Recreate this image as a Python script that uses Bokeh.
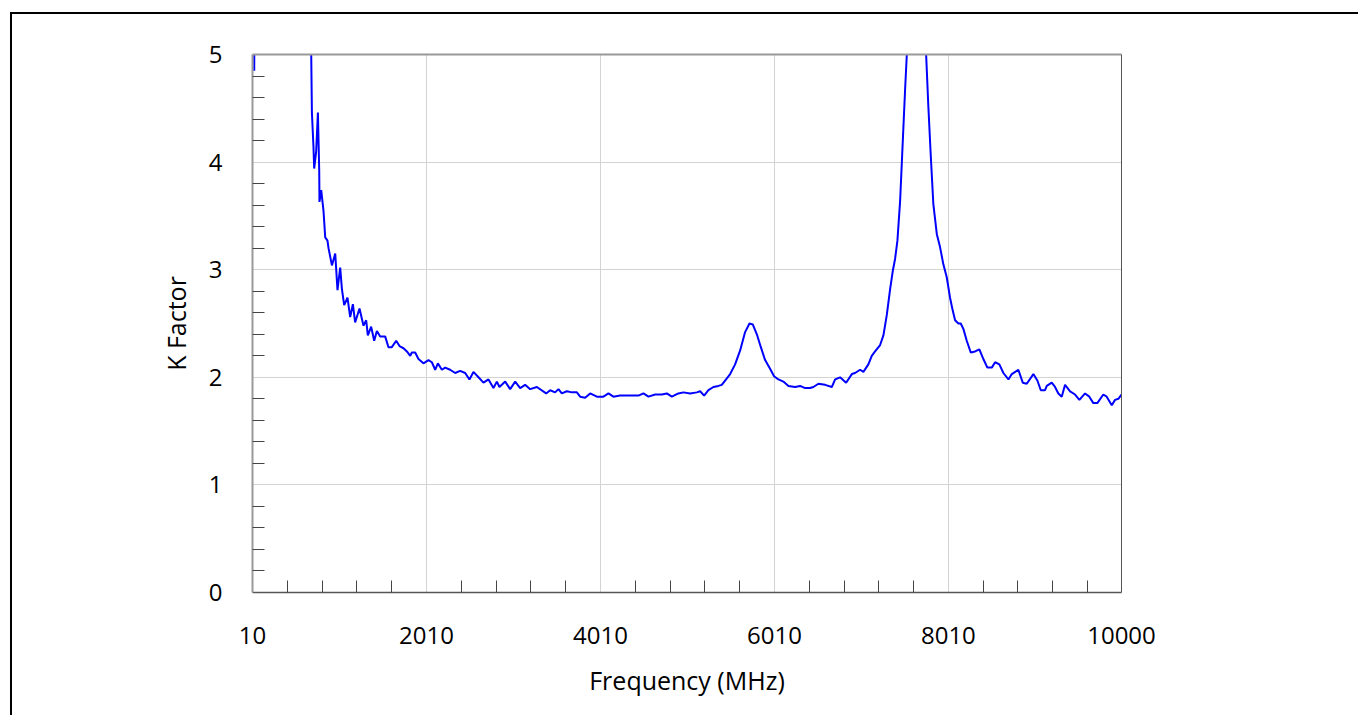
from bokeh.plotting import figure
from bokeh.models import FixedTicker, LinearAxis, Range1d
from bokeh.embed import file_html
from bokeh.resources import INLINE

# Measured K factor versus frequency
freq_mhz = [
    30, 40, 100, 300, 500, 650, 685, 693, 711, 719, 742, 762, 777, 780, 800,
    826, 846, 872, 884, 923, 961, 987, 1018, 1038, 1064, 1102, 1133, 1164,
    1190, 1240, 1286, 1317, 1336, 1374, 1409, 1440, 1478, 1535, 1573, 1612,
    1662, 1700, 1746, 1785, 1823, 1842, 1880, 1918, 1975, 2033, 2072, 2110,
    2141, 2187, 2225, 2282, 2340, 2397, 2455, 2504, 2550, 2608, 2665, 2723,
    2780, 2819, 2849, 2915, 2972, 3030, 3087, 3144, 3202, 3279, 3386, 3432,
    3489, 3527, 3566, 3624, 3681, 3739, 3777, 3834, 3892, 3969, 4044, 4102,
    4159, 4236, 4294, 4371, 4447, 4504, 4562, 4639, 4716, 4773, 4831, 4906,
    4964, 5041, 5118, 5156, 5202, 5251, 5309, 5366, 5405, 5443, 5501, 5558,
    5616, 5673, 5723, 5762, 5808, 5854, 5903, 5960, 6006, 6056, 6113, 6171,
    6248, 6305, 6363, 6420, 6458, 6516, 6593, 6670, 6708, 6765, 6834, 6900,
    6937, 6995, 7033, 7090, 7129, 7167, 7225, 7263, 7302, 7340, 7371, 7397,
    7424, 7455, 7486, 7512, 7532, 7580, 7639, 7700, 7754, 7780, 7808, 7837,
    7877, 7914, 7952, 7991, 8029, 8060, 8087, 8125, 8152, 8182, 8221, 8267,
    8317, 8366, 8412, 8458, 8509, 8547, 8596, 8642, 8700, 8739, 8814, 8865,
    8911, 8987, 9033, 9072, 9121, 9141, 9198, 9236, 9274, 9313, 9351, 9409,
    9466, 9516, 9581, 9630, 9676, 9722, 9791, 9830, 9888, 9926, 9964, 10000,
]
k_factor = [
    4.85, 8.5, 14.0, 12.0, 8.0, 5.6, 5.0, 4.46, 4.14, 3.94, 4.10, 4.46, 3.92, 3.63, 3.74,
    3.55, 3.30, 3.27, 3.20, 3.04, 3.15, 2.81, 3.02, 2.82, 2.67, 2.74, 2.56, 2.68,
    2.51, 2.64, 2.48, 2.53, 2.39, 2.47, 2.34, 2.43, 2.38, 2.38, 2.28, 2.28,
    2.34, 2.29, 2.27, 2.24, 2.20, 2.23, 2.23, 2.17, 2.13, 2.16, 2.14, 2.07,
    2.13, 2.07, 2.09, 2.07, 2.04, 2.06, 2.04, 1.98, 2.05, 2.00, 1.95, 1.98,
    1.90, 1.96, 1.91, 1.96, 1.89, 1.96, 1.90, 1.93, 1.89, 1.91, 1.85, 1.88,
    1.86, 1.89, 1.85, 1.87, 1.86, 1.86, 1.82, 1.81, 1.85, 1.82, 1.82, 1.85,
    1.82, 1.83, 1.83, 1.83, 1.83, 1.85, 1.82, 1.84, 1.84, 1.85, 1.82, 1.85,
    1.86, 1.85, 1.86, 1.87, 1.83, 1.88, 1.91, 1.92, 1.93, 1.97, 2.03, 2.12,
    2.25, 2.42, 2.50, 2.49, 2.40, 2.28, 2.16, 2.08, 2.01, 1.98, 1.96, 1.92,
    1.91, 1.92, 1.90, 1.90, 1.91, 1.94, 1.93, 1.91, 1.98, 2.00, 1.95, 2.03,
    2.04, 2.07, 2.05, 2.12, 2.20, 2.24, 2.30, 2.39, 2.58, 2.82, 2.99, 3.10,
    3.27, 3.64, 4.20, 4.67, 5.0, 6.5, 7.6, 6.5, 5.0, 4.51, 4.05, 3.61,
    3.33, 3.21, 3.05, 2.93, 2.74, 2.62, 2.53, 2.50, 2.50, 2.45, 2.34, 2.23,
    2.24, 2.26, 2.17, 2.09, 2.09, 2.14, 2.12, 2.04, 1.98, 2.03, 2.07, 1.95,
    1.94, 2.03, 1.97, 1.88, 1.88, 1.92, 1.95, 1.91, 1.85, 1.82, 1.93, 1.87,
    1.84, 1.79, 1.85, 1.82, 1.76, 1.76, 1.84, 1.82, 1.74, 1.79, 1.80, 1.84,
]

x_major = [10, 2010, 4010, 6010, 8010, 10000]
x_minor = [410, 810, 1210, 1610, 2410, 2810, 3210, 3610, 4410, 4810, 5210, 5610,
           6410, 6810, 7210, 7610, 8410, 8810, 9210, 9610]
y_major = [0, 1, 2, 3, 4, 5]
y_minor = [v / 5 for v in range(26) if v % 5]

FONT = "Open Sans"

p = figure(
    width=1330, height=700,
    x_range=Range1d(10, 10000), y_range=Range1d(0, 5),
    output_backend="svg", toolbar_location=None,
    min_border_left=240, min_border_right=221,
    min_border_top=40, min_border_bottom=122,
    x_axis_label="Frequency (MHz)", y_axis_label="K Factor",
)
p.styles = {"margin-left": "12px", "margin-top": "14px"}
p.outline_line_color = None
p.background_fill_color = "white"
p.border_fill_color = "white"

p.line(freq_mhz, k_factor, line_color="#0000ff", line_width=2)

for ax, major, minor in ((p.xaxis[0], x_major, x_minor), (p.yaxis[0], y_major, y_minor)):
    ax.ticker = FixedTicker(ticks=major, minor_ticks=minor)
    ax.major_tick_line_color = None
    ax.major_tick_in = 0
    ax.major_tick_out = 0
    ax.minor_tick_in = 12
    ax.minor_tick_out = 0
    ax.minor_tick_line_color = "#444444"
    ax.minor_tick_line_width = 1
    ax.major_label_text_font = FONT
    ax.major_label_text_font_size = "24px"
    ax.major_label_text_color = "black"
    ax.axis_label_text_font = FONT
    ax.axis_label_text_font_size = "25px"
    ax.axis_label_text_font_style = "normal"
    ax.axis_label_text_color = "black"

p.xaxis.axis_line_color = "#555555"
p.xaxis.axis_line_width = 1.5
p.xaxis.major_label_standoff = 34
p.xaxis.axis_label_standoff = 16
p.yaxis.axis_line_color = "#999999"
p.yaxis.axis_line_width = 2
p.yaxis.major_label_standoff = 30
p.yaxis.axis_label_standoff = 13

# plain frame edges on the top and right
top = LinearAxis(ticker=FixedTicker(ticks=[]), axis_line_color="#999999", axis_line_width=2,
                 major_tick_line_color=None, minor_tick_line_color=None,
                 major_label_text_font_size="0px")
right = LinearAxis(ticker=FixedTicker(ticks=[]), axis_line_color="#555555", axis_line_width=1,
                   major_tick_line_color=None, minor_tick_line_color=None,
                   major_label_text_font_size="0px")
p.add_layout(top, "above")
p.add_layout(right, "right")

p.xgrid.ticker = FixedTicker(ticks=x_major[1:-1])
p.ygrid.ticker = FixedTicker(ticks=y_major[1:-1])
p.grid.grid_line_color = "#d3d3d3"
p.grid.grid_line_width = 1

# page frame: black rule along the top and left edges of the chart panel
frame = ('<div style="position:fixed;left:10px;top:12px;width:1346px;height:701px;'
         'box-sizing:content-box;border-left:2px solid black;border-top:2px solid black;'
         'pointer-events:none;z-index:1000"></div>')
html = file_html(p, INLINE)
html = html.replace("<body>", '<body style="margin:0;overflow:hidden">', 1)
html = html.replace("</body>", frame + "</body>", 1)
open("out.html", "w").write(html)
